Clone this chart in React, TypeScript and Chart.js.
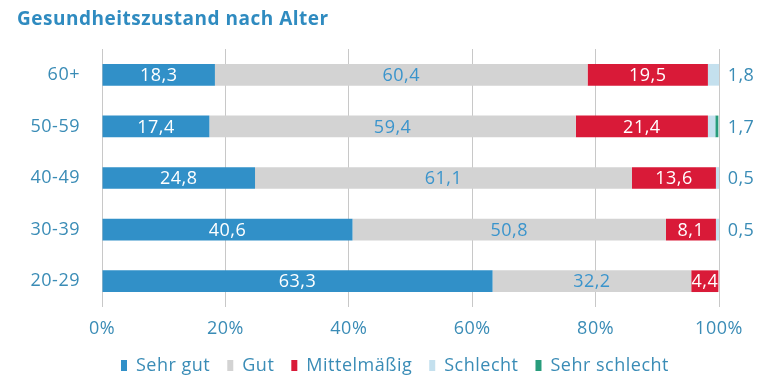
import React, { useEffect, useRef } from "react";
import { Chart, registerables } from "chart.js";

Chart.register(...registerables);

const categories = ["60+", "50-59", "40-49", "30-39", "20-29"];
const sehrGut = [18.3, 17.4, 24.8, 40.6, 63.3];
const gut = [60.4, 59.4, 61.1, 50.8, 32.2];
const mittelmaessig = [19.5, 21.4, 13.6, 8.1, 4.4];
const schlecht = [1.8, 1.2, 0.5, 0.5, 0];
const sehrSchlecht = [0, 0.5, 0, 0, 0];
const outsideLabels = ["1,8", "1,7", "0,5", "0,5", ""];
const xTicks = [0, 20, 40, 60, 80, 100];

const TEXT = "#3a8cb6";
const FONT = "'Open Sans', sans-serif";
const SPACING = "0.5px";

const fmt = (v: number) => v.toFixed(1).replace(".", ",");

const spacingPlugin = {
  id: "letterSpacing",
  beforeUpdate(chart: any) {
    chart.ctx.letterSpacing = SPACING;
  },
  beforeDraw(chart: any) {
    chart.ctx.letterSpacing = SPACING;
  },
  afterLayout(chart: any) {
    const lg = chart.legend;
    if (lg) {
      lg.left += 27;
      lg.right += 27;
    }
  },
};

const valuePlugin = {
  id: "valueLabels",
  afterDatasetsDraw(chart: any) {
    const ctx = chart.ctx;
    ctx.save();
    ctx.letterSpacing = SPACING;
    ctx.font = `18px ${FONT}`;
    ctx.textAlign = "center";
    ctx.textBaseline = "middle";
    [0, 1, 2].forEach((di) => {
      const meta = chart.getDatasetMeta(di);
      const data = chart.data.datasets[di].data as number[];
      meta.data.forEach((el: any, i: number) => {
        const v = data[i];
        if (!v) return;
        ctx.fillStyle = di === 1 ? "#3a94cc" : "#ffffff";
        ctx.fillText(fmt(v), (el.x + el.base) / 2, el.y + 1);
      });
    });
    const meta = chart.getDatasetMeta(0);
    ctx.fillStyle = TEXT;
    meta.data.forEach((el: any, i: number) => {
      const t = outsideLabels[i];
      if (!t) return;
      ctx.fillText(t, chart.chartArea.right + 22, el.y + 1);
    });
    ctx.restore();
  },
};

export default function App() {
  const ref = useRef<HTMLCanvasElement>(null);
  useEffect(() => {
    if (!ref.current) return;
    const mk = (label: string, data: number[], color: string) => ({
      label,
      data,
      backgroundColor: color,
      borderWidth: 0,
      categoryPercentage: 1,
      barPercentage: 0.42,
    });
    const chart = new Chart(ref.current, {
      type: "bar",
      data: {
        labels: categories,
        datasets: [
          mk("Sehr gut", sehrGut, "#3190c8"),
          mk("Gut", gut, "#d3d3d3"),
          mk("Mittelmäßig", mittelmaessig, "#d91a38"),
          mk("Schlecht", schlecht, "#c4e0ee"),
          mk("Sehr schlecht", sehrSchlecht, "#289c7c"),
        ],
      },
      options: {
        indexAxis: "y",
        responsive: false,
        animation: false,
        layout: { padding: { left: 17, right: 51, top: 0, bottom: 1.5 } },
        plugins: {
          title: {
            display: true,
            text: "Gesundheitszustand nach Alter",
            align: "start",
            color: "#2f8bc0",
            font: { family: FONT, size: 19, weight: "bold" },
            padding: { top: 8.5, bottom: 17.7 },
          },
          legend: {
            position: "bottom",
            maxHeight: 45,
            labels: {
              boxWidth: 6,
              boxHeight: 11,
              padding: 17,
              color: TEXT,
              font: { family: FONT, size: 18 },
            },
          },
          tooltip: { enabled: false },
        },
        scales: {
          x: {
            stacked: true,
            min: 0,
            max: 100,
            afterBuildTicks: (scale: any) => {
              scale.ticks = xTicks.map((v) => ({ value: v }));
            },
            afterFit: (scale: any) => {
              scale.height = 32.5;
            },
            grid: { color: "#c8c8c8", drawTicks: false },
            border: { display: false },
            ticks: {
              color: TEXT,
              padding: 11,
              font: { family: FONT, size: 18 },
              callback: (v: any) => `${v}%`,
            },
          },
          y: {
            stacked: true,
            afterFit: (scale: any) => {
              scale.width = 85;
            },
            grid: { display: false, drawTicks: false },
            border: { display: false },
            ticks: {
              color: TEXT,
              padding: 22,
              font: { family: FONT, size: 18 },
            },
          },
        },
      },
      plugins: [spacingPlugin, valuePlugin],
    } as any);
    return () => chart.destroy();
  }, []);
  return (
    <div style={{ position: "absolute", left: 0, top: 0, width: 770, height: 386, background: "#fff" }}>
      <canvas ref={ref} width={770} height={386} />
    </div>
  );
}
